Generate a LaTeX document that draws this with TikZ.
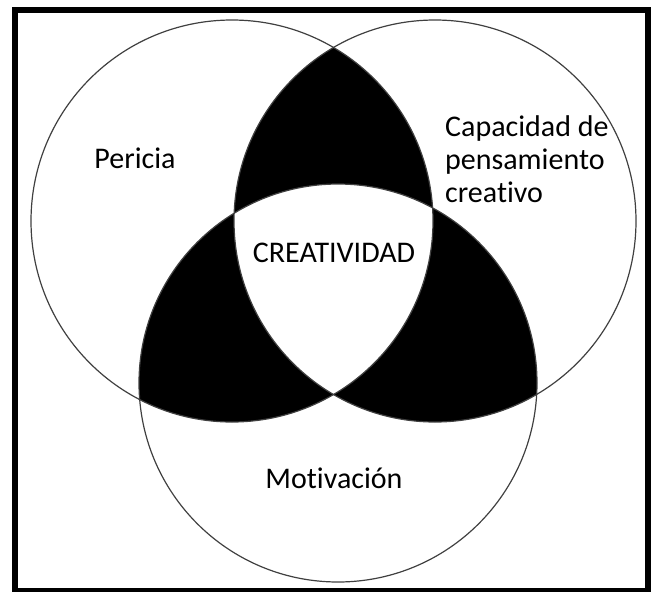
\documentclass[tikz,border=0pt]{standalone}
\usepackage{fontspec}
\setmainfont[Ligatures=NoCommon]{Carlito}

\begin{document}
\begin{tikzpicture}[x=1pt,y=-1pt,
   ring/.style={draw=black!75,line width=1.2pt},
   lbl/.style={font=\fontsize{30}{33}\selectfont,inner sep=0pt}]
   \useasboundingbox (0,0) rectangle (651,592);

   \coordinate (pc) at (232,221);
   \coordinate (cc) at (435,221);
   \coordinate (mc) at (338,383);

   % overlaps
   \begin{scope}
      \clip (pc) circle (201);
      \fill (cc) circle (201);
      \fill (mc) circle (199);
   \end{scope}
   \begin{scope}
      \clip (cc) circle (201);
      \fill (mc) circle (199);
   \end{scope}
   \begin{scope}
      \clip (pc) circle (201);
      \clip (cc) circle (201);
      \fill[white] (mc) circle (199);
   \end{scope}

   \draw[ring] (pc) circle (201);
   \draw[ring] (cc) circle (201);
   \draw[ring] (mc) circle (199);

   \node[lbl, anchor=base] (pericia) at (135,168) {Pericia};
   \node[lbl, anchor=north west, align=left] (capacidad) at (445,115)
      {Capacidad de\\pensamiento\\creativo};
   \node[lbl, anchor=base] (creatividad) at (334,262) {CREATIVIDAD};
   \node[lbl, anchor=base] (motivacion) at (334,488) {Motivación};

   \draw[line width=6pt] (15,10) rectangle (648,591);
\end{tikzpicture}
\end{document}
